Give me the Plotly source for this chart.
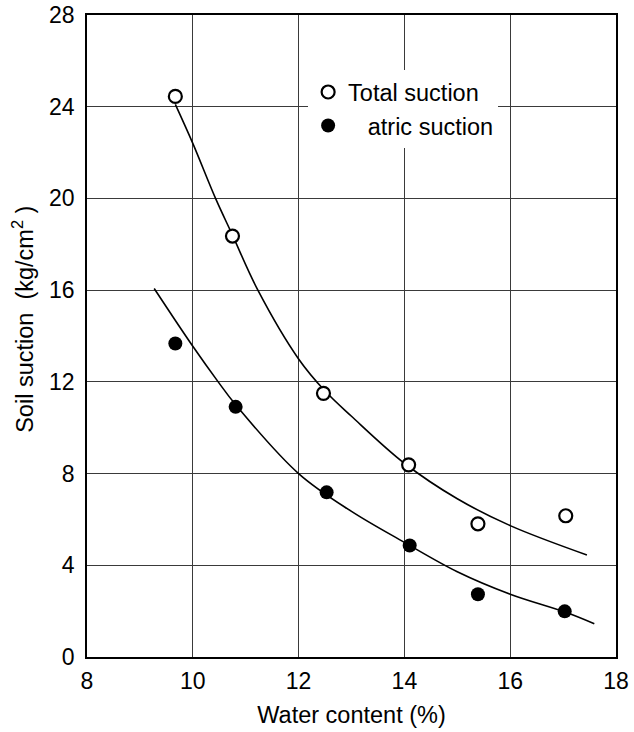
import plotly.graph_objects as go

# Measured suction values against water content
total_w = [9.67, 10.75, 12.47, 14.08, 15.39, 17.05]
total_s = [24.45, 18.36, 11.5, 8.38, 5.81, 6.16]

matric_w = [9.67, 10.81, 12.53, 14.10, 15.39, 17.03]
matric_s = [13.67, 10.91, 7.18, 4.86, 2.74, 1.99]

# Hand-fitted trend curves (read at a few stations along each curve)
total_fit_w = [9.67, 10.0, 10.43, 10.75, 11.23, 12.0, 12.5, 13.0, 14.0, 15.0, 16.0, 17.45]
total_fit_s = [24.1, 22.4, 20.0, 18.4, 16.0, 13.0, 11.6, 10.5, 8.45, 6.9, 5.73, 4.45]

matric_fit_w = [9.27, 10.0, 10.48, 10.81, 12.0, 13.0, 14.0, 15.0, 16.0, 17.05, 17.59]
matric_fit_s = [16.07, 13.55, 12.0, 11.0, 8.0, 6.35, 5.0, 3.72, 2.74, 1.95, 1.45]

x_ticks = [8, 10, 12, 14, 16, 18]
y_ticks = [0, 4, 8, 12, 16, 20, 24, 28]

FONT = "Liberation Sans, Arial, sans-serif"
TICK_SIZE = 23
TITLE_SIZE = 23.5

fig = go.Figure()

fig.add_trace(go.Scatter(
    x=total_fit_w, y=total_fit_s, mode="lines",
    line=dict(color="black", width=1.6, shape="spline", smoothing=1.0),
    showlegend=False, hoverinfo="skip"))
fig.add_trace(go.Scatter(
    x=matric_fit_w, y=matric_fit_s, mode="lines",
    line=dict(color="black", width=1.6, shape="spline", smoothing=1.0),
    showlegend=False, hoverinfo="skip"))

fig.add_trace(go.Scatter(
    x=total_w, y=total_s, mode="markers", name="Total suction",
    legendgroup="total",
    marker=dict(symbol="circle", size=13, color="white",
                line=dict(color="black", width=2.2))))
fig.add_trace(go.Scatter(
    x=matric_w, y=matric_s, mode="markers",
    name="\u00a0\u00a0\u00a0atric suction", legendgroup="matric",
    marker=dict(symbol="circle", size=14, color="black",
                line=dict(color="black", width=0))))

axis_common = dict(
    showgrid=True, gridcolor="#3a3a3a", gridwidth=1,
    showline=True, linecolor="black", linewidth=1.6, mirror=True,
    zeroline=False, ticks="", automargin=False,
    tickfont=dict(family=FONT, size=TICK_SIZE, color="black"),
)

fig.update_xaxes(
    range=[8, 18], tickvals=x_ticks, ticktext=[str(v) for v in x_ticks],
    ticklabelstandoff=3,
    title=dict(text="Water content (%)",
               font=dict(family=FONT, size=TITLE_SIZE, color="black"),
               standoff=13),
    **axis_common)
fig.update_yaxes(
    range=[0, 28], tickvals=y_ticks, ticktext=[str(v) for v in y_ticks],
    ticklabelstandoff=6,
    **axis_common)

# Vertical axis caption, set a little above the plot's mid-height
fig.add_annotation(
    text="Soil suction\u00a0\u00a0(kg/cm<sup>2</sup>\u00a0)",
    xref="paper", yref="paper", x=-0.12, y=0.526,
    xanchor="center", yanchor="middle", textangle=-90, showarrow=False,
    font=dict(family=FONT, size=TITLE_SIZE, color="black"))

fig.update_layout(
    width=634, height=732,
    margin=dict(l=87, r=18, t=15, b=75, autoexpand=False),
    paper_bgcolor="white", plot_bgcolor="white",
    font=dict(family=FONT, color="black"),
    legend=dict(
        x=0.418, y=0.914, xanchor="left", yanchor="top",
        bgcolor="white", borderwidth=0,
        font=dict(family=FONT, size=TITLE_SIZE, color="black"),
        traceorder="grouped", tracegroupgap=0,
    ),
)

fig.write_html("out.html")
